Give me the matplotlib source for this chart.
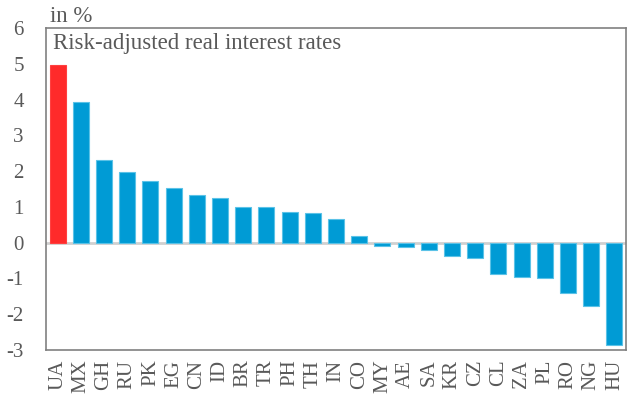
import matplotlib.pyplot as plt

plt.rcParams['font.family'] = ['Liberation Serif', 'DejaVu Serif']
plt.rcParams['axes.unicode_minus'] = False

countries = ['UA', 'MX', 'GH', 'RU', 'PK', 'EG', 'CN', 'ID', 'BR', 'TR', 'PH', 'TH', 'IN',
             'CO', 'MY', 'AE', 'SA', 'KR', 'CZ', 'CL', 'ZA', 'PL', 'RO', 'NG', 'HU']
rates = [4.97, 3.93, 2.31, 1.98, 1.73, 1.53, 1.32, 1.25, 1.0, 0.99, 0.87, 0.83, 0.67,
         0.19, -0.10, -0.13, -0.20, -0.36, -0.42, -0.87, -0.96, -1.0, -1.40, -1.76, -2.85]
highlight = 'UA'

grey = '#595959'
colors = ['#FF2A2A' if c == highlight else '#009BD5' for c in countries]
edges = ['#FF4040' if c == highlight else '#5BC2E7' for c in countries]

fig = plt.figure(figsize=(6.28, 3.98), dpi=100)
ax = fig.add_axes([46 / 628, 1 - 350 / 398, 580 / 628, 322 / 398])

ax.bar(range(len(countries)), rates, width=0.69, color=colors, edgecolor=edges,
       linewidth=0.8, zorder=2)
ax.axhline(0, color='#D0D0D0', linewidth=2, zorder=1)

ax.set_xlim(-0.5, len(countries) - 0.5)
ax.set_ylim(-3, 6)
ax.set_yticks(range(-3, 7))
ax.set_xticks(range(len(countries)))
ax.set_xticklabels(countries, rotation=90)
ax.tick_params(length=0, labelsize=15, colors=grey)
ax.tick_params(axis='y', pad=16)
ax.tick_params(axis='x', pad=7)
for s in ax.spines.values():
    s.set_color('#808080')
    s.set_linewidth(1.2)

ax.text(0.012, 0.985, 'Risk-adjusted real interest rates', transform=ax.transAxes,
        fontsize=16.5, color=grey, va='top', ha='left')
fig.text(50 / 628, 1 - 27 / 398, 'in %', fontsize=16.5, color=grey, va='bottom', ha='left')

fig.savefig('out.png', dpi=100)
